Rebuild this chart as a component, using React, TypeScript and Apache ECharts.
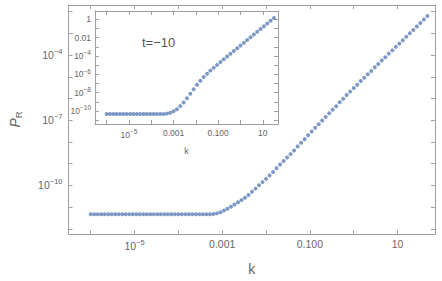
import React, { useEffect, useRef } from 'react';
import * as echarts from 'echarts';

// log10(k) and log10(P_R) for the main plot
const mainLogK = [
  -6.00, -5.92, -5.84, -5.76, -5.68, -5.60, -5.52, -5.44, -5.36, -5.28,
  -5.20, -5.12, -5.04, -4.96, -4.88, -4.80, -4.72, -4.64, -4.56, -4.48,
  -4.40, -4.32, -4.24, -4.16, -4.08, -4.00, -3.92, -3.84, -3.76, -3.68,
  -3.60, -3.52, -3.44, -3.36, -3.28, -3.20, -3.12, -3.04, -2.96, -2.88,
  -2.80, -2.72, -2.64, -2.56, -2.48, -2.40, -2.32, -2.24, -2.16, -2.08,
  -2.00, -1.92, -1.84, -1.76, -1.68, -1.60, -1.52, -1.44, -1.36, -1.28,
  -1.20, -1.12, -1.04, -0.96, -0.88, -0.80, -0.72, -0.64, -0.56, -0.48,
  -0.40, -0.32, -0.24, -0.16, -0.08, 0.00, 0.08, 0.16, 0.24, 0.32,
  0.40, 0.48, 0.56, 0.64, 0.72, 0.80, 0.88, 0.96, 1.04, 1.12,
  1.20, 1.28, 1.36, 1.44, 1.52, 1.60, 1.68,
];
const mainLogP = [
  -11.33, -11.33, -11.33, -11.33, -11.33, -11.33, -11.33, -11.33, -11.33, -11.33,
  -11.33, -11.33, -11.33, -11.33, -11.33, -11.33, -11.33, -11.33, -11.33, -11.33,
  -11.33, -11.33, -11.33, -11.33, -11.33, -11.33, -11.33, -11.33, -11.33, -11.33,
  -11.33, -11.33, -11.33, -11.33, -11.33, -11.32, -11.29, -11.24, -11.16, -11.08,
  -10.98, -10.88, -10.78, -10.68, -10.57, -10.44, -10.29, -10.15, -9.99, -9.85,
  -9.70, -9.54, -9.38, -9.21, -9.04, -8.88, -8.72, -8.56, -8.39, -8.21,
  -8.04, -7.87, -7.69, -7.52, -7.35, -7.18, -7.01, -6.85, -6.68, -6.52,
  -6.35, -6.17, -6.01, -5.84, -5.68, -5.51, -5.36, -5.19, -5.04, -4.88,
  -4.73, -4.56, -4.41, -4.25, -4.10, -3.93, -3.78, -3.62, -3.47, -3.31,
  -3.15, -2.99, -2.84, -2.68, -2.52, -2.36, -2.20,
];

// log10(k) and log10(P_R) for the inset (t = -10)
const insetLogK = [
  -6.00, -5.85, -5.70, -5.55, -5.40, -5.25, -5.10, -4.95, -4.80, -4.65,
  -4.50, -4.35, -4.20, -4.05, -3.90, -3.75, -3.60, -3.45, -3.30, -3.15,
  -3.00, -2.85, -2.70, -2.55, -2.40, -2.25, -2.10, -1.95, -1.80, -1.65,
  -1.50, -1.35, -1.20, -1.05, -0.90, -0.75, -0.60, -0.45, -0.30, -0.15,
  0.00, 0.15, 0.30, 0.45, 0.60, 0.75, 0.90, 1.05, 1.20, 1.35, 1.50,
];
const insetLogP = [
  -10.33, -10.33, -10.33, -10.33, -10.33, -10.33, -10.33, -10.33, -10.33, -10.33,
  -10.33, -10.33, -10.33, -10.33, -10.33, -10.33, -10.33, -10.33, -10.29, -10.20,
  -10.04, -9.80, -9.47, -9.07, -8.62, -8.13, -7.63, -7.15, -6.70, -6.30,
  -5.94, -5.60, -5.28, -4.97, -4.65, -4.35, -4.05, -3.75, -3.45, -3.15,
  -2.85, -2.55, -2.25, -1.95, -1.65, -1.35, -1.05, -0.75, -0.45, -0.15, 0.15,
];

// tick labels (exponent -> text)
const mainXTickExp = [-5, -3, -1, 1];
const mainXTickText = ['10{s|−5}', '0.001', '0.100', '10'];
const mainYTickExp = [-4, -7, -10];
const mainYTickText = ['10{s|−4}', '10{s|−7}', '10{s|−10}'];
const insetXTickExp = [-5, -3, -1, 1];
const insetXTickText = ['10{s|−5}', '0.001', '0.100', '10'];
const insetYTickExp = [0, -2, -4, -6, -8, -10];
const insetYTickText = ['1', '0.01', '10{s|−4}', '10{s|−6}', '10{s|−8}', '10{s|−10}'];

const insetLabel = 't=−10';

const LINE = '#a0a0a0';
const TEXT = '#666666';
const DOT = '#5E81B5';
const FONT = 'Liberation Sans, Arial, sans-serif';

const makeFmt = (exps: number[], texts: string[]) => (v: number) => {
  const e = Math.round(v);
  if (Math.abs(v - e) > 1e-6) return '';
  const idx = exps.indexOf(e);
  return idx >= 0 ? texts[idx] : '';
};

function axis(
  gridIndex: number,
  position: string,
  min: number,
  max: number,
  splitNumber: number,
  extra: any = {}
) {
  return {
    type: 'value',
    gridIndex,
    position,
    min,
    max,
    splitNumber,
    axisLine: { show: true, onZero: false, lineStyle: { color: LINE, width: 1 } },
    axisTick: { show: true, inside: true, length: 4, lineStyle: { color: LINE, width: 1 } },
    splitLine: { show: false },
    axisLabel: { show: false },
    ...extra,
  };
}

function labelCfg(fmt: any, fontSize: number, supSize: number, supPad: number, margin: number) {
  return {
    show: true,
    formatter: fmt,
    color: TEXT,
    fontSize,
    fontFamily: FONT,
    margin,
    showMinLabel: false,
    showMaxLabel: false,
    hideOverlap: false,
    rich: {
      s: { fontSize: supSize, color: TEXT, fontFamily: FONT, padding: [0, 0, supPad, 0] },
    },
  };
}

export default function App() {
  const ref = useRef<HTMLDivElement>(null);
  useEffect(() => {
    if (!ref.current) return;
    const chart = echarts.init(ref.current, undefined, { renderer: 'svg' });

    const mX: [number, number] = [-6.506, 1.854];
    const mY: [number, number] = [-12.24, -1.69];
    const iX: [number, number] = [-6.52, 1.68];
    const iY: [number, number] = [-11.42, 0.905];

    chart.setOption({
      animation: false,
      backgroundColor: '#ffffff',
      grid: [
        { left: 63, top: 5, width: 372, height: 229, show: false },
        { left: 95, top: 11, width: 183, height: 113, show: true, backgroundColor: '#ffffff', borderWidth: 0 },
      ],
      xAxis: [
        axis(0, 'bottom', mX[0], mX[1], 8, {
          axisLabel: labelCfg(makeFmt(mainXTickExp, mainXTickText), 10.5, 7.5, 8, 4),
          name: 'k',
          nameLocation: 'middle',
          nameGap: 28,
          nameTextStyle: { fontSize: 14, color: TEXT, fontFamily: FONT },
        }),
        axis(0, 'top', mX[0], mX[1], 8),
        axis(1, 'bottom', iX[0], iX[1], 8, {
          axisLabel: labelCfg(makeFmt(insetXTickExp, insetXTickText), 8.5, 6.5, 6, 4),
          name: 'k',
          nameLocation: 'middle',
          nameGap: 22,
          nameTextStyle: { fontSize: 9, color: TEXT, fontFamily: FONT },
        }),
        axis(1, 'top', iX[0], iX[1], 8),
      ],
      yAxis: [
        axis(0, 'left', mY[0], mY[1], 10, {
          axisLabel: labelCfg(makeFmt(mainYTickExp, mainYTickText), 10.5, 7.5, 8, 6),
          name: '{p|P}{r|R}',
          nameLocation: 'middle',
          nameRotate: 90,
          nameGap: 45,
          nameTextStyle: {
            color: TEXT,
            fontFamily: FONT,
            rich: {
              p: { fontSize: 14, fontStyle: 'italic', color: TEXT, fontFamily: FONT },
              r: { fontSize: 9.5, color: TEXT, fontFamily: FONT, padding: [7, 0, 0, 0] },
            },
          },
        }),
        axis(0, 'right', mY[0], mY[1], 10),
        axis(1, 'left', iY[0], iY[1], 12, {
          axisLabel: labelCfg(makeFmt(insetYTickExp, insetYTickText), 8.5, 6.5, 6, 4),
        }),
        axis(1, 'right', iY[0], iY[1], 12),
      ],
      graphic: [
        {
          type: 'text',
          left: 142,
          top: 36,
          z: 100,
          style: { text: insetLabel, fontSize: 13, fill: '#555555', fontFamily: FONT },
        },
      ],
      series: [
        {
          type: 'scatter',
          xAxisIndex: 0,
          yAxisIndex: 0,
          symbolSize: 4,
          itemStyle: { color: DOT },
          silent: true,
          data: mainLogK.map((k, i) => [k, mainLogP[i]]),
        },
        {
          type: 'scatter',
          xAxisIndex: 2,
          yAxisIndex: 2,
          symbolSize: 4,
          itemStyle: { color: DOT },
          silent: true,
          data: insetLogK.map((k, i) => [k, insetLogP[i]]),
        },
      ],
    });
    return () => chart.dispose();
  }, []);

  return (
    <div
      ref={ref}
      style={{ position: 'fixed', left: 0, top: 0, width: 442, height: 281, background: '#fff' }}
    />
  );
}
